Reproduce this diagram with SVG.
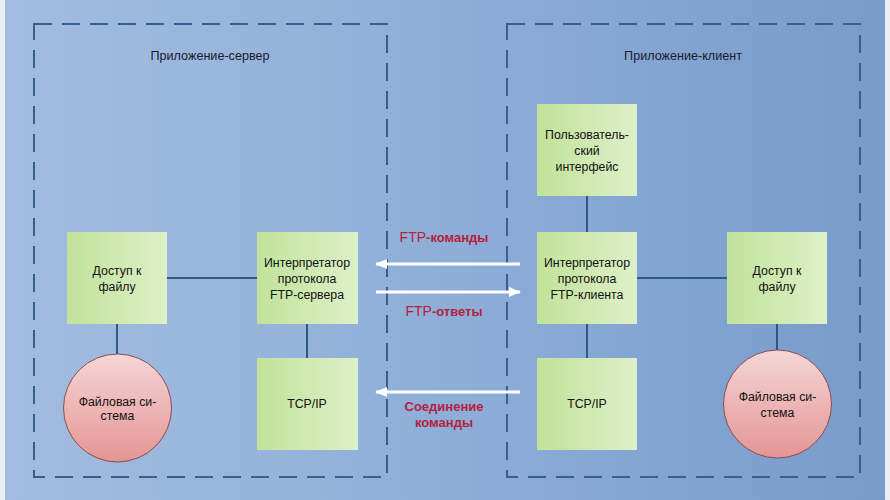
<svg xmlns="http://www.w3.org/2000/svg" width="890" height="500" viewBox="0 0 890 500">
<defs>
<linearGradient id="bg" x1="0" y1="0" x2="1" y2="0">
<stop offset="0" stop-color="#a3bde0"/>
<stop offset="0.5" stop-color="#8eaed8"/>
<stop offset="1" stop-color="#779bcb"/>
</linearGradient>
<linearGradient id="box" x1="0" y1="0" x2="1" y2="0">
<stop offset="0" stop-color="#c2e29a"/>
<stop offset="1" stop-color="#ddf0c8"/>
</linearGradient>
<linearGradient id="circ" x1="0" y1="0" x2="0" y2="1">
<stop offset="0" stop-color="#f5d6d6"/>
<stop offset="1" stop-color="#e49594"/>
</linearGradient>
<marker id="ah" markerWidth="12" markerHeight="10" refX="11" refY="5" orient="auto" markerUnits="userSpaceOnUse">
<path d="M0,0 L12,5 L0,10 Z" fill="#ffffff"/>
</marker>
<style>
.frame{fill:none;stroke:#3a5f8c;stroke-width:2;stroke-dasharray:18 10}
.node{fill:url(#box);stroke:none}
.fs{fill:url(#circ);stroke:#8a4a50;stroke-width:1}
.t{font-family:"Liberation Sans",Arial,sans-serif;font-size:12.3px;fill:#111;text-anchor:middle}
.lbl{font-family:"Liberation Sans",Arial,sans-serif;font-size:12.6px;fill:#1a1a2a;text-anchor:middle}
.red{font-family:"Liberation Sans",Arial,sans-serif;font-size:13px;font-weight:bold;fill:#b5213d;text-anchor:middle}
.conn{stroke:#2e5888;stroke-width:2;fill:none}
.arr{stroke:#ffffff;stroke-width:3;fill:none;marker-end:url(#ah)}
</style>
</defs>
<rect x="0" y="0" width="890" height="500" fill="url(#bg)"/>
<rect x="0" y="0" width="5" height="500" fill="#e9eef5"/>
<rect x="885" y="0" width="5" height="500" fill="#e9eef5"/>

<g id="server-frame">
<rect class="frame" x="34" y="24" width="353" height="453"/>
<text class="lbl" x="210" y="60">Приложение-сервер</text>
</g>
<g id="client-frame">
<rect class="frame" x="507" y="24" width="353" height="453"/>
<text class="lbl" x="683" y="60">Приложение-клиент</text>
</g>

<g id="connectors">
<line class="conn" x1="167" y1="278" x2="257" y2="278"/>
<line class="conn" x1="117" y1="324" x2="117" y2="354"/>
<line class="conn" x1="307" y1="324" x2="307" y2="358"/>
<line class="conn" x1="587" y1="196" x2="587" y2="232"/>
<line class="conn" x1="637" y1="278" x2="727" y2="278"/>
<line class="conn" x1="587" y1="324" x2="587" y2="358"/>
<line class="conn" x1="777" y1="324" x2="777" y2="350"/>
<line class="arr" x1="520" y1="264" x2="376" y2="264"/>
<line class="arr" x1="376" y1="292" x2="520" y2="292"/>
<line class="arr" x1="520" y1="392" x2="376" y2="392"/>
<text class="red" x="444" y="242"><tspan font-weight="normal" font-size="14">FTP</tspan>-команды</text>
<text class="red" x="444" y="316"><tspan font-weight="normal" font-size="14">FTP</tspan>-ответы</text>
<text class="red" x="444" y="411">Соединение</text>
<text class="red" x="444" y="427">команды</text>
</g>

<g id="server-file-access">
<rect class="node" x="67" y="232" width="100" height="92"/>
<text class="t" x="117" y="275">Доступ к</text>
<text class="t" x="117" y="291">файлу</text>
</g>
<g id="server-pi">
<rect class="node" x="257" y="232" width="101" height="92"/>
<text class="t" x="307" y="267">Интерпретатор</text>
<text class="t" x="307" y="283">протокола</text>
<text class="t" x="307" y="299">FTP-сервера</text>
</g>
<g id="server-tcp">
<rect class="node" x="257" y="358" width="101" height="92"/>
<text class="t" x="307" y="408">TCP/IP</text>
</g>
<g id="server-fs">
<circle class="fs" cx="117.5" cy="408" r="54"/>
<text class="t" x="117.5" y="406">Файловая си-</text>
<text class="t" x="117.5" y="420">стема</text>
</g>

<g id="client-ui">
<rect class="node" x="537" y="104" width="100" height="92"/>
<text class="t" x="587" y="139">Пользователь-</text>
<text class="t" x="587" y="155">ский</text>
<text class="t" x="587" y="171">интерфейс</text>
</g>
<g id="client-pi">
<rect class="node" x="537" y="232" width="100" height="92"/>
<text class="t" x="587" y="267">Интерпретатор</text>
<text class="t" x="587" y="283">протокола</text>
<text class="t" x="587" y="299">FTP-клиента</text>
</g>
<g id="client-tcp">
<rect class="node" x="537" y="358" width="100" height="92"/>
<text class="t" x="587" y="408">TCP/IP</text>
</g>
<g id="client-file-access">
<rect class="node" x="727" y="232" width="100" height="92"/>
<text class="t" x="777" y="275">Доступ к</text>
<text class="t" x="777" y="291">файлу</text>
</g>
<g id="client-fs">
<circle class="fs" cx="777.5" cy="404" r="54"/>
<text class="t" x="777.5" y="401">Файловая си-</text>
<text class="t" x="777.5" y="417">стема</text>
</g>
</svg>
